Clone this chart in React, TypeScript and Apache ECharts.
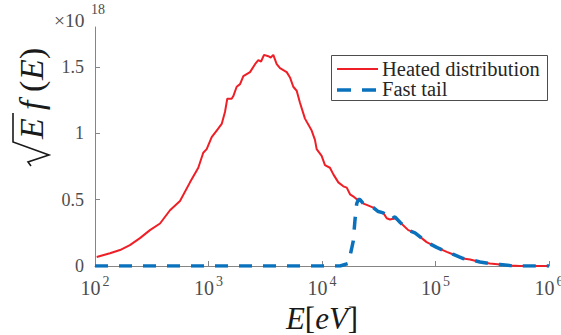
import React, { useEffect, useRef } from 'react';
import * as echarts from 'echarts';

// Energies in eV (log axis) and sqrt(E) f(E) in units of 1e18
const heatedE = [103.5, 135.5, 166, 203, 249, 305, 374, 458, 561, 687, 813, 899, 964, 1067, 1181, 1307, 1397, 1464, 1600, 1655, 1771, 1897, 2028, 2322, 2570, 2748, 2904, 3085, 3367, 3533, 3724, 3990, 4266, 4887, 5224, 5585, 5984, 6397, 7079, 8110, 8670, 8974, 9931, 10620, 11750, 12590, 13930, 15410, 16520, 17660, 19140, 20470, 21630, 23120, 24770, 28310, 31330, 34670, 37150, 39720, 43950, 48640, 57540, 65920, 75510, 83560, 102500, 125600, 143600, 175800, 201400, 246600, 302000, 369900, 453000, 554600, 980000];
const heatedF = [0.068, 0.096, 0.12, 0.157, 0.21, 0.27, 0.32, 0.42, 0.49, 0.63, 0.74, 0.853, 0.88, 0.97, 1.02, 1.07, 1.16, 1.26, 1.26, 1.28, 1.35, 1.37, 1.43, 1.46, 1.52, 1.55, 1.54, 1.59, 1.58, 1.57, 1.59, 1.52, 1.49, 1.46, 1.42, 1.35, 1.32, 1.23, 1.11, 1.02, 0.95, 0.88, 0.83, 0.76, 0.74, 0.69, 0.63, 0.60, 0.59, 0.54, 0.52, 0.50, 0.50, 0.47, 0.46, 0.44, 0.41, 0.40, 0.36, 0.35, 0.36, 0.33, 0.27, 0.25, 0.21, 0.18, 0.14, 0.106, 0.087, 0.056, 0.049, 0.03, 0.018, 0.011, 0.003, 0, 0];

const tailE = [100, 14420, 17060, 18240, 18870, 19540, 20220, 20910, 21630, 23120, 24770, 28310, 31330, 34670, 37150, 39720, 43950, 48640, 57540, 65920, 75510, 83560, 102500, 125600, 143600, 175800, 201400, 246600, 302000, 369900, 453000, 554600, 1000000];
const tailF = [0, 0, 0.02, 0.13, 0.19, 0.35, 0.47, 0.50, 0.50, 0.47, 0.46, 0.44, 0.41, 0.40, 0.37, 0.35, 0.37, 0.33, 0.27, 0.25, 0.21, 0.18, 0.14, 0.106, 0.087, 0.056, 0.049, 0.03, 0.018, 0.011, 0.003, 0, 0];

const seriesNames = ['Heated distribution', 'Fast tail'];
const yTicks = [0, 0.5, 1, 1.5];
const yMax = 1.8;
const xMin = 100;
const xMax = 1000000;
const yExponent = '18';

const RED = '#ee1f26';
const BLUE = '#0a72bd';
const AXIS = '#858585';
const LABEL = '#4d4d4d';
const INK = '#1a1a1a';
const FONT = '"Liberation Serif", "DejaVu Serif", serif';

export default function App() {
  const ref = useRef<HTMLDivElement>(null);

  useEffect(() => {
    if (!ref.current) return;
    const chart = echarts.init(ref.current, null, { renderer: 'svg' });

    const heatedData = heatedE.map((e, i) => [e, heatedF[i]]);
    const tailData = tailE.map((e, i) => [e, tailF[i]]);

    const titleText = (x: number, text: string, italic: boolean) => ({
      type: 'text',
      x,
      y: -11,
      style: {
        text,
        fontSize: 34,
        fontFamily: FONT,
        fontStyle: italic ? 'italic' : 'normal',
        fill: INK,
        align: 'left',
        verticalAlign: 'middle',
      },
    });

    const option: any = {
      animation: false,
      backgroundColor: '#ffffff',
      grid: { left: 95, right: 12, top: 27, bottom: 69, containLabel: false, outerBoundsMode: 'none' },
      xAxis: {
        type: 'log',
        logBase: 10,
        min: xMin,
        max: xMax,
        axisLine: { show: true, lineStyle: { color: AXIS, width: 1 } },
        axisTick: { show: true, inside: true, length: 5, lineStyle: { color: AXIS } },
        minorTick: { show: false },
        splitLine: { show: false },
        axisLabel: {
          margin: 8,
          color: LABEL,
          formatter: (v: number) => `{b|10}{s|${Math.round(Math.log10(v))}}`,
          rich: {
            b: { fontSize: 20, fontFamily: FONT, color: LABEL, lineHeight: 24, verticalAlign: 'bottom' },
            s: { fontSize: 14, fontFamily: FONT, color: LABEL, lineHeight: 14, verticalAlign: 'top', padding: [0, 0, 0, 2] },
          },
        },
        name: '{i|E}{n|[}{i|eV}{n|]}',
        nameLocation: 'middle',
        nameGap: 28,
        nameTextStyle: {
          rich: {
            i: { fontSize: 31, fontFamily: FONT, fontStyle: 'italic', color: INK },
            n: { fontSize: 31, fontFamily: FONT, color: INK },
          },
        },
      },
      yAxis: {
        type: 'value',
        min: 0,
        max: yMax,
        interval: 0.5,
        axisLine: { show: true, lineStyle: { color: AXIS, width: 1 } },
        axisTick: { show: true, inside: true, length: 5, lineStyle: { color: AXIS }, customValues: yTicks },
        splitLine: { show: false },
        axisLabel: {
          margin: 11,
          color: LABEL,
          fontSize: 18,
          fontFamily: FONT,
          customValues: yTicks,
          formatter: (v: number) => String(v),
        },
      },
      series: [
        {
          name: seriesNames[0],
          type: 'line',
          data: heatedData,
          showSymbol: false,
          symbol: 'none',
          lineStyle: { color: RED, width: 2 },
          z: 3,
        },
        {
          name: seriesNames[1],
          type: 'line',
          data: tailData,
          showSymbol: false,
          symbol: 'none',
          lineStyle: { color: BLUE, width: 3.5, type: [13, 11] },
          z: 4,
        },
      ],
      graphic: [
        // y-axis multiplier
        {
          type: 'text',
          left: 54,
          top: 10,
          style: { text: '×10', fontSize: 19.5, fontFamily: FONT, fill: LABEL },
        },
        {
          type: 'text',
          left: 91,
          top: 2,
          style: { text: yExponent, fontSize: 14, fontFamily: FONT, fill: LABEL },
        },
        // y-axis title sqrt(E) f(E), rotated to read bottom-to-top
        {
          type: 'group',
          x: 42,
          y: 167,
          rotation: Math.PI / 2,
          children: [
            {
              type: 'polyline',
              shape: { points: [[1, -11], [5, -14], [12, 7], [25, -29], [54, -29]] },
              style: { stroke: INK, lineWidth: 1.6, fill: 'none' },
            },
            titleText(28, 'E', true),
            titleText(57, 'f', true),
            titleText(75, '(', false),
            titleText(87, 'E', true),
            titleText(108, ')', false),
          ],
        },
        // legend box
        {
          type: 'rect',
          shape: { x: 331.5, y: 55.5, width: 216, height: 45 },
          style: { fill: '#ffffff', stroke: '#4d4d4d', lineWidth: 1 },
          z: 10,
        },
        {
          type: 'line',
          shape: { x1: 337, y1: 69, x2: 378, y2: 69 },
          style: { stroke: RED, lineWidth: 2 },
          z: 11,
        },
        {
          type: 'line',
          shape: { x1: 337, y1: 90, x2: 376, y2: 90 },
          style: { stroke: BLUE, lineWidth: 3.5, lineDash: [14, 11] },
          z: 11,
        },
        {
          type: 'text',
          x: 382,
          y: 69,
          style: { text: seriesNames[0], fontSize: 20.5, fontFamily: FONT, fill: '#262626', verticalAlign: 'middle' },
          z: 11,
        },
        {
          type: 'text',
          x: 382,
          y: 89,
          style: { text: seriesNames[1], fontSize: 20.5, fontFamily: FONT, fill: '#262626', verticalAlign: 'middle' },
          z: 11,
        },
      ],
    };

    chart.setOption(option);
    return () => {
      chart.dispose();
    };
  }, []);

  return (
    <div
      ref={ref}
      style={{ position: 'fixed', left: 0, top: 0, width: 561, height: 335, background: '#fff' }}
    />
  );
}
